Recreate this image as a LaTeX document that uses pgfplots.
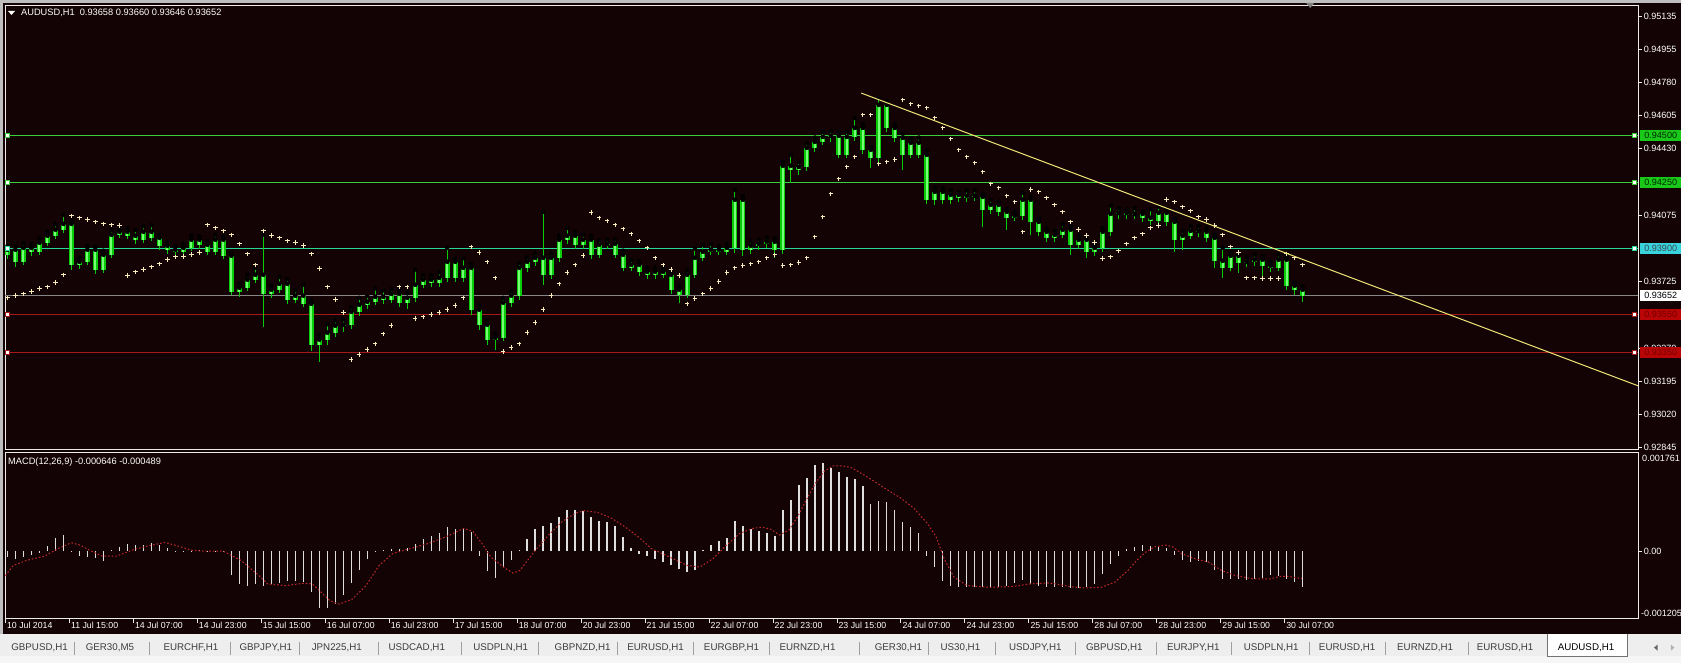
\documentclass[border=0pt]{standalone}
\usepackage{fontspec}
\setmainfont{Liberation Sans}
\usepackage{pgfplots}
\usepackage{pgfplotstable}
\pgfplotsset{compat=1.18}
\definecolor{winbg}{RGB}{238,238,238}
\definecolor{winlow}{RGB}{246,246,246}
\definecolor{winframe}{RGB}{190,190,190}
\definecolor{bg}{RGB}{20,3,5}
\definecolor{axisc}{RGB}{235,235,235}
\definecolor{candle}{RGB}{10,205,10}
\definecolor{candlefill}{RGB}{120,255,120}
\definecolor{lvgreen}{RGB}{60,205,60}
\definecolor{boxgreen}{RGB}{25,200,25}
\definecolor{lvcyan}{RGB}{40,215,150}
\definecolor{boxcyan}{RGB}{55,212,222}
\definecolor{bidc}{RGB}{135,135,135}
\definecolor{lvred}{RGB}{165,25,25}
\definecolor{boxred}{RGB}{185,5,5}
\definecolor{trendc}{RGB}{240,230,120}
\definecolor{sarc}{RGB}{250,236,185}
\definecolor{histc}{RGB}{222,222,222}
\definecolor{sigc}{RGB}{190,40,40}
\definecolor{tabtext}{RGB}{60,60,60}
\newcommand\mt{\fontsize{9.1}{10}\selectfont}
\newcommand\mtt{\fontsize{8.8}{10}\selectfont}
\newcommand\mttl{\fontsize{9.3}{10}\selectfont}
\newcommand\mtab{\fontsize{9.8}{11}\selectfont}

\pgfplotstableread{
x o h l c s m
0.5 0.93868 0.93915 0.93845 0.93895 0.93640 -0.000103
2.5 0.93895 0.93915 0.93805 0.93831 0.93651 -0.000133
4.5 0.93831 0.93930 0.93815 0.93905 0.93661 -0.000103
6.5 0.93905 0.93925 0.93860 0.93884 0.93672 -0.000072
8.5 0.93884 0.93955 0.93865 0.93932 0.93688 -0.000030
10.5 0.93932 0.93990 0.93915 0.93969 0.93698 0.000090
12.5 0.93969 0.94030 0.93950 0.94001 0.93720 0.000229
14.5 0.94001 0.94080 0.93985 0.94032 0.93762 0.000289
16.5 0.94032 0.94050 0.93790 0.93815 0.94075 -0.000012
18.5 0.93815 0.93850 0.93795 0.93831 0.94064 -0.000090
20.5 0.93831 0.93915 0.93815 0.93895 0.94054 -0.000103
22.5 0.93895 0.93910 0.93765 0.93789 0.94043 -0.000115
24.5 0.93789 0.93890 0.93770 0.93868 0.94032 -0.000181
26.5 0.93868 0.94000 0.93850 0.93974 0.94027 0.000018
28.5 0.93974 0.94010 0.93955 0.93990 0.94022 0.000078
30.5 0.93990 0.94010 0.93950 0.93969 0.93757 0.000127
32.5 0.93969 0.94000 0.93925 0.93948 0.93778 0.000115
34.5 0.93948 0.94020 0.93930 0.93990 0.93789 0.000115
36.5 0.93990 0.94025 0.93940 0.93958 0.93804 0.000139
38.5 0.93958 0.93975 0.93895 0.93916 0.93820 0.000109
40.5 0.93916 0.93935 0.93870 0.93895 0.93842 0.000066
42.5 0.93895 0.93915 0.93865 0.93884 0.93857 0.000006
44.5 0.93884 0.93925 0.93865 0.93905 0.93860 -0.000012
46.5 0.93905 0.93970 0.93890 0.93948 0.93870 0.000003
48.5 0.93948 0.93965 0.93900 0.93921 0.93880 0.000018
50.5 0.93921 0.93940 0.93865 0.93884 0.94027 -0.000012
52.5 0.93884 0.93975 0.93865 0.93948 0.94011 0.000006
54.5 0.93948 0.93965 0.93845 0.93863 0.93995 -0.000012
56.5 0.93863 0.93880 0.93655 0.93672 0.93974 -0.000434
58.5 0.93672 0.93715 0.93645 0.93693 0.93926 -0.000585
60.5 0.93693 0.93760 0.93675 0.93736 0.93873 -0.000615
62.5 0.93736 0.93800 0.93720 0.93762 0.93815 -0.000585
64.5 0.93762 0.93975 0.93485 0.93661 0.93995 -0.000615
66.5 0.93661 0.93705 0.93640 0.93683 0.93969 -0.000585
68.5 0.93683 0.93750 0.93665 0.93714 0.93958 -0.000573
70.5 0.93714 0.93740 0.93605 0.93630 0.93942 -0.000537
72.5 0.93630 0.93680 0.93610 0.93651 0.93932 -0.000525
74.5 0.93651 0.93709 0.93590 0.93608 0.93916 -0.000555
76.5 0.93608 0.93625 0.93360 0.93391 0.93873 -0.000736
78.5 0.93391 0.93440 0.93301 0.93418 0.93794 -0.001007
80.5 0.93418 0.93500 0.93390 0.93455 0.93698 -0.001019
82.5 0.93455 0.93520 0.93430 0.93492 0.93630 -0.000935
84.5 0.93492 0.93525 0.93460 0.93497 0.93561 -0.000778
86.5 0.93497 0.93590 0.93475 0.93566 0.93312 -0.000573
88.5 0.93566 0.93640 0.93545 0.93603 0.93338 -0.000344
90.5 0.93603 0.93650 0.93580 0.93619 0.93365 -0.000133
92.5 0.93619 0.93690 0.93600 0.93645 0.93396 -0.000012
94.5 0.93645 0.93680 0.93605 0.93630 0.93449 0.000018
96.5 0.93630 0.93685 0.93610 0.93661 0.93492 0.000036
98.5 0.93661 0.93680 0.93590 0.93614 0.93698 0.000048
100.5 0.93614 0.93665 0.93580 0.93640 0.93698 0.000066
102.5 0.93640 0.93790 0.93620 0.93709 0.93529 0.000127
104.5 0.93709 0.93760 0.93690 0.93736 0.93539 0.000211
106.5 0.93736 0.93760 0.93700 0.93720 0.93550 0.000271
108.5 0.93720 0.93775 0.93700 0.93746 0.93561 0.000320
110.5 0.93746 0.93905 0.93725 0.93831 0.93577 0.000428
112.5 0.93831 0.93850 0.93725 0.93746 0.93598 0.000392
114.5 0.93746 0.93850 0.93725 0.93799 0.93640 0.000404
116.5 0.93799 0.93820 0.93550 0.93577 0.93910 0.000350
118.5 0.93577 0.93600 0.93470 0.93497 0.93879 -0.000090
120.5 0.93497 0.93520 0.93390 0.93418 0.93831 -0.000356
122.5 0.93418 0.93450 0.93365 0.93428 0.93746 -0.000476
124.5 0.93428 0.93640 0.93410 0.93614 0.93354 -0.000283
126.5 0.93614 0.93675 0.93590 0.93651 0.93375 -0.000163
128.5 0.93651 0.93825 0.93630 0.93799 0.93396 0.000030
130.5 0.93799 0.93855 0.93775 0.93831 0.93455 0.000211
132.5 0.93831 0.93875 0.93810 0.93852 0.93508 0.000392
134.5 0.93852 0.94096 0.93709 0.93762 0.93577 0.000452
136.5 0.93762 0.93875 0.93740 0.93852 0.93651 0.000513
138.5 0.93852 0.93970 0.93830 0.93948 0.93714 0.000609
140.5 0.93948 0.94010 0.93925 0.93969 0.93773 0.000730
142.5 0.93969 0.93990 0.93900 0.93921 0.93815 0.000742
144.5 0.93921 0.93975 0.93900 0.93948 0.93863 0.000712
146.5 0.93948 0.93970 0.93845 0.93868 0.94091 0.000609
148.5 0.93868 0.93945 0.93850 0.93921 0.94064 0.000543
150.5 0.93921 0.93950 0.93900 0.93926 0.94048 0.000531
152.5 0.93926 0.93950 0.93850 0.93868 0.94027 0.000452
154.5 0.93868 0.93890 0.93780 0.93799 0.94006 0.000259
156.5 0.93799 0.93840 0.93780 0.93815 0.93979 0.000066
158.5 0.93815 0.93835 0.93755 0.93778 0.93942 -0.000042
160.5 0.93778 0.93800 0.93740 0.93762 0.93905 -0.000090
162.5 0.93762 0.93800 0.93740 0.93778 0.93852 -0.000139
164.5 0.93778 0.93800 0.93745 0.93762 0.93815 -0.000193
166.5 0.93762 0.93780 0.93660 0.93683 0.93789 -0.000247
168.5 0.93683 0.93700 0.93614 0.93656 0.93757 -0.000314
170.5 0.93656 0.93785 0.93640 0.93762 0.93608 -0.000368
172.5 0.93762 0.93900 0.93745 0.93852 0.93635 -0.000344
174.5 0.93852 0.93920 0.93835 0.93884 0.93661 0.000018
176.5 0.93884 0.93925 0.93865 0.93895 0.93688 0.000109
178.5 0.93895 0.93915 0.93865 0.93884 0.93725 0.000187
180.5 0.93884 0.93925 0.93865 0.93905 0.93773 0.000229
182.5 0.93905 0.94213 0.93880 0.94160 0.93799 0.000549
184.5 0.94160 0.94180 0.93860 0.93895 0.93810 0.000452
186.5 0.93895 0.93940 0.93875 0.93916 0.93820 0.000392
188.5 0.93916 0.93950 0.93895 0.93926 0.93831 0.000368
190.5 0.93926 0.93960 0.93905 0.93937 0.93852 0.000332
192.5 0.93937 0.93955 0.93850 0.93895 0.93868 0.000271
194.5 0.93895 0.94360 0.93870 0.94340 0.93810 0.000742
196.5 0.94340 0.94398 0.94250 0.94319 0.93815 0.000923
198.5 0.94319 0.94360 0.94290 0.94334 0.93826 0.001176
200.5 0.94334 0.94460 0.94315 0.94435 0.93852 0.001315
202.5 0.94435 0.94490 0.94415 0.94467 0.93963 0.001538
204.5 0.94467 0.94520 0.94450 0.94493 0.94069 0.001586
206.5 0.94493 0.94525 0.94465 0.94499 0.94191 0.001495
208.5 0.94499 0.94520 0.94380 0.94398 0.94271 0.001417
210.5 0.94398 0.94520 0.94380 0.94493 0.94334 0.001333
212.5 0.94493 0.94594 0.94470 0.94541 0.94387 0.001284
214.5 0.94541 0.94560 0.94405 0.94425 0.94610 0.001164
216.5 0.94425 0.94440 0.94329 0.94382 0.94610 0.000850
218.5 0.94382 0.94700 0.94355 0.94663 0.94350 0.000892
220.5 0.94663 0.94685 0.94520 0.94541 0.94361 0.000880
222.5 0.94541 0.94560 0.94465 0.94488 0.94372 0.000730
224.5 0.94488 0.94510 0.94319 0.94398 0.94690 0.000531
226.5 0.94398 0.94485 0.94380 0.94462 0.94668 0.000440
228.5 0.94462 0.94490 0.94380 0.94398 0.94658 0.000320
230.5 0.94398 0.94420 0.94140 0.94160 0.94647 -0.000090
232.5 0.94160 0.94225 0.94130 0.94202 0.94594 -0.000283
234.5 0.94202 0.94220 0.94135 0.94160 0.94541 -0.000525
236.5 0.94160 0.94210 0.94140 0.94186 0.94483 -0.000615
238.5 0.94186 0.94200 0.94150 0.94170 0.94425 -0.000645
240.5 0.94170 0.94210 0.94150 0.94181 0.94387 -0.000645
242.5 0.94181 0.94210 0.94155 0.94175 0.94356 -0.000645
244.5 0.94175 0.94190 0.94016 0.94107 0.94308 -0.000645
246.5 0.94107 0.94160 0.94085 0.94133 0.94244 -0.000645
248.5 0.94133 0.94150 0.94075 0.94096 0.94223 -0.000633
250.5 0.94096 0.94110 0.94001 0.94064 0.94181 -0.000621
252.5 0.94064 0.94095 0.94045 0.94075 0.94149 -0.000573
254.5 0.94075 0.94197 0.94055 0.94160 0.93990 -0.000513
256.5 0.94160 0.94175 0.93974 0.94043 0.94213 -0.000585
258.5 0.94043 0.94060 0.93970 0.93990 0.94202 -0.000615
260.5 0.93990 0.94005 0.93935 0.93958 0.94170 -0.000645
262.5 0.93958 0.93995 0.93935 0.93974 0.94133 -0.000645
264.5 0.93974 0.94030 0.93955 0.94001 0.94096 -0.000645
266.5 0.94001 0.94020 0.93868 0.93921 0.94043 -0.000657
268.5 0.93921 0.93970 0.93900 0.93948 0.94001 -0.000657
270.5 0.93948 0.93965 0.93852 0.93884 0.93969 -0.000645
272.5 0.93884 0.93925 0.93860 0.93905 0.93932 -0.000585
274.5 0.93905 0.94010 0.93885 0.93990 0.93847 -0.000416
276.5 0.93990 0.94130 0.93970 0.94085 0.93857 -0.000235
278.5 0.94085 0.94115 0.94060 0.94090 0.93889 -0.000090
280.5 0.94090 0.94110 0.94060 0.94080 0.93926 0.000048
282.5 0.94080 0.94115 0.94060 0.94085 0.93958 0.000078
284.5 0.94085 0.94100 0.94040 0.94064 0.93979 0.000109
286.5 0.94064 0.94110 0.94025 0.94048 0.94011 0.000090
288.5 0.94048 0.94122 0.94030 0.94091 0.94022 0.000078
290.5 0.94091 0.94110 0.94020 0.94043 0.94160 0.000060
292.5 0.94043 0.94060 0.93884 0.93948 0.94149 -0.000072
294.5 0.93948 0.93995 0.93895 0.93969 0.94122 -0.000151
296.5 0.93969 0.94020 0.93950 0.93995 0.94101 -0.000193
298.5 0.93995 0.94020 0.93965 0.93990 0.94069 -0.000175
300.5 0.93990 0.94010 0.93935 0.93958 0.94054 -0.000193
302.5 0.93958 0.93975 0.93799 0.93836 0.94022 -0.000344
304.5 0.93836 0.93905 0.93746 0.93799 0.93974 -0.000494
306.5 0.93799 0.93885 0.93780 0.93863 0.93910 -0.000494
308.5 0.93863 0.93870 0.93773 0.93826 0.93880 -0.000494
310.5 0.93826 0.93855 0.93805 0.93831 0.93746 -0.000513
312.5 0.93831 0.93870 0.93810 0.93842 0.93746 -0.000500
314.5 0.93842 0.93860 0.93750 0.93810 0.93741 -0.000476
316.5 0.93810 0.93830 0.93775 0.93799 0.93741 -0.000434
318.5 0.93799 0.93870 0.93780 0.93842 0.93741 -0.000452
320.5 0.93842 0.93860 0.93680 0.93704 0.93873 -0.000494
322.5 0.93704 0.93720 0.93655 0.93683 0.93852 -0.000555
324.5 0.93683 0.93700 0.93619 0.93651 0.93815 -0.000645
}\candles

\pgfplotstableread{
i v
0 -0.000434
2.0 -0.000253
5.35 -0.000163
9.8 -0.000090
13.2 0.000048
16.5 0.000151
18.7 0.000109
21.0 0.000018
24.3 -0.000090
27.7 -0.000090
32.1 0.000030
36.6 0.000109
39.9 0.000157
43.3 0.000090
46.6 0.000018
50 0.000000
54.5 0.000000
58.9 -0.000163
63.4 -0.000434
65.6 -0.000585
70.1 -0.000615
74.5 -0.000573
76.8 -0.000585
79 -0.000736
81.2 -0.000886
83.5 -0.000947
86.8 -0.000856
90.2 -0.000615
93.5 -0.000253
96.9 -0.000042
101.3 0.000048
105.8 0.000139
110.3 0.000259
114.7 0.000410
117 0.000350
119.2 0.000139
121.4 -0.000103
124.8 -0.000295
127 -0.000392
128.7 -0.000344
130.3 -0.000193
132.6 0.000018
135.9 0.000289
139.3 0.000531
142.6 0.000681
144.9 0.000724
148.2 0.000693
151.6 0.000591
154.9 0.000440
158.3 0.000259
161.6 0.000048
166.1 -0.000103
170.5 -0.000253
173.7 -0.000283
177 -0.000133
180.4 0.000109
183.7 0.000320
187.1 0.000410
189.3 0.000428
191.5 0.000392
193.7 0.000289
196 0.000380
198.2 0.000621
200.4 0.000923
202.7 0.001224
204.9 0.001435
207.1 0.001526
209.4 0.001526
211.6 0.001495
213.8 0.001405
217.2 0.001254
220.5 0.001103
223.9 0.000953
227.2 0.000772
230.6 0.000500
232.8 0.000259
235 -0.000163
237.3 -0.000464
240.6 -0.000615
246.2 -0.000645
251.8 -0.000633
256.3 -0.000585
260.7 -0.000567
262.9 -0.000585
266.3 -0.000633
269.6 -0.000657
274.1 -0.000645
277.5 -0.000555
280.8 -0.000344
283 -0.000163
285.3 -0.000012
287.5 0.000078
290.3 0.000109
292 0.000078
294.2 -0.000042
297.5 -0.000133
300.9 -0.000193
304.2 -0.000344
307.6 -0.000434
312 -0.000494
316.5 -0.000494
318.7 -0.000452
321 -0.000452
324.3 -0.000489
}\signal

\pgfplotsset{
  mtbase/.style={
    scale only axis, width=1634bp, xmin=-0.1, xmax=408.4,
    axis line style={draw=axisc, line width=0.8bp},
    tick style={draw=axisc, line width=0.8bp},
    tick align=outside, major tick length=4bp,
    ytick pos=right, yticklabel pos=right,
    scaled y ticks=false, clip mode=individual,
    yticklabel style={font=\mt, text=white, inner xsep=1.5bp},
  },
  candlebar/.style={only marks, mark=none, forget plot,
    error bars/.cd, y dir=minus, y explicit, error mark=none,
    error bar style={#1}},
  lvl/.style={line width=0.9bp, forget plot},
  lvmark/.style={only marks, mark=square*, mark size=2bp, forget plot,
    mark options={draw=#1, fill=white, line width=0.8bp}},
}
\tikzset{
  pricebox/.style={anchor=west, xshift=2bp, minimum width=41bp, minimum height=11bp,
    inner sep=0pt, font=\mt},
}

\begin{document}
\begin{tikzpicture}[x=1bp,y=1bp]
\fill[winframe] (0,0) rectangle (1682,663);
\fill[winbg] (0,0) rectangle (1682,29);
\fill[winlow] (0,0) rectangle (1682,6.3);
\fill[bg] (3,29) rectangle (1682,660);

% ---------------- main price panel ----------------
\begin{axis}[mtbase, at={(5bp,213bp)}, anchor=south west, height=445bp,
  ymin=0.928345, ymax=0.95193,
  xtick=\empty,
  ytick={0.92845,0.93020,0.93195,0.93370,0.93725,0.94075,0.94430,0.94605,0.94780,0.94955,0.95135},
  yticklabels={0.92845,0.93020,0.93195,0.93370,0.93725,0.94075,0.94430,0.94605,0.94780,0.94955,0.95135},
]
\addplot[lvl, lvgreen] coordinates {(-0.1,0.94500) (408.4,0.94500)};
\addplot[lvl, lvgreen] coordinates {(-0.1,0.94250) (408.4,0.94250)};
\addplot[lvl, lvcyan]  coordinates {(-0.1,0.93900) (408.4,0.93900)};
\addplot[lvl, bidc, line width=0.8bp] coordinates {(-0.1,0.93652) (408.4,0.93652)};
\addplot[lvl, lvred]   coordinates {(-0.1,0.93550) (408.4,0.93550)};
\addplot[lvl, lvred]   coordinates {(-0.1,0.93350) (408.4,0.93350)};

% wicks
\addplot[candlebar={draw=candle, line width=1bp}]
  table[x=x, y=h, y error minus expr=\thisrow{h}-\thisrow{l}] {\candles};
% bodies (outline, then fill)
\addplot[candlebar={draw=candle, line width=5bp, line cap=butt}]
  table[x=x, y expr={max(\thisrow{o},\thisrow{c})},
        y error minus expr={abs(\thisrow{o}-\thisrow{c})}] {\candles};
\addplot[candlebar={draw=candlefill, line width=2.2bp, line cap=butt}]
  table[x=x, y expr={max(\thisrow{o},\thisrow{c})},
        y error minus expr={abs(\thisrow{o}-\thisrow{c})}] {\candles};

% parabolic SAR
\addplot[only marks, mark=+, mark size=2.3bp, mark options={draw=sarc, line width=1bp}]
  table[x=x, y=s] {\candles};

% trend line
\addplot[trendc, line width=1bp] coordinates {(214.1,0.947257) (408.4,0.931735)};

% level markers
\addplot[lvmark=lvgreen] coordinates {(0.4,0.94500) (407.6,0.94500)};
\addplot[lvmark=lvgreen] coordinates {(0.4,0.94250) (407.6,0.94250)};
\addplot[lvmark=lvcyan]  coordinates {(0.4,0.93900) (407.6,0.93900)};
\addplot[lvmark=lvred]   coordinates {(0.4,0.93550) (407.6,0.93550)};
\addplot[lvmark=lvred]   coordinates {(0.4,0.93350) (407.6,0.93350)};

\node[pricebox, fill=boxgreen, text=black!85!green] at (axis cs:408.4,0.94500) {0.94500};
\node[pricebox, fill=boxgreen, text=black!85!green] at (axis cs:408.4,0.94250) {0.94250};
\node[pricebox, fill=boxcyan, text=black!80!cyan] at (axis cs:408.4,0.93900) {0.93900};
\node[pricebox, fill=white, text=black] at (axis cs:408.4,0.93652) {0.93652};
\node[pricebox, fill=boxred, text=red!45!black] at (axis cs:408.4,0.93550) {0.93550};
\node[pricebox, fill=boxred, text=red!45!black] at (axis cs:408.4,0.93350) {0.93350};
\end{axis}

% ---------------- MACD panel ----------------
\begin{axis}[mtbase, at={(5bp,44bp)}, anchor=south west, height=166bp,
  ymin=-0.001205, ymax=0.001761,
  ytick={0}, yticklabels={0.00},
  xtick={0,16,...,320}, xtick pos=bottom,
  xticklabels={10 Jul 2014,11 Jul 15:00,14 Jul 07:00,14 Jul 23:00,15 Jul 15:00,16 Jul 07:00,16 Jul 23:00,17 Jul 15:00,18 Jul 07:00,20 Jul 23:00,21 Jul 15:00,22 Jul 07:00,22 Jul 23:00,23 Jul 15:00,24 Jul 07:00,24 Jul 23:00,25 Jul 15:00,28 Jul 07:00,28 Jul 23:00,29 Jul 15:00,30 Jul 07:00},
  xticklabel style={font=\mtt, text=white, anchor=north west, inner sep=0pt, xshift=1.5bp, yshift=1bp},
]
\addplot[ycomb, histc, line width=1.2bp] table[x=x, y=m] {\candles};
\addplot[sigc, line width=1bp, dash pattern=on 1.6bp off 2bp] table[x=i, y=v] {\signal};
\end{axis}

% texts
\fill[white] (8,652) -- (15,652) -- (11.5,648) -- cycle;
\node[anchor=base west, inner sep=0pt, font=\mttl, text=white] at (21,647.3)
  {AUDUSD,H1\ \ 0.93658 0.93660 0.93646 0.93652};
\node[anchor=base west, inner sep=0pt, font=\mttl, text=white] at (8,198.3)
  {MACD(12,26,9) -0.000646 -0.000489};
\node[anchor=north west, inner sep=0pt, font=\mt, text=white] at (1643,208) {0.001761};
\node[anchor=south west, inner sep=0pt, font=\mt, text=white] at (1642,46) {-0.001205};
\fill[gray] (1307,660) -- (1315,660) -- (1311,655) -- cycle;

% tab bar
\begin{scope}[every node/.style={font=\mtab, text=tabtext, inner sep=0pt}]
\node at (39.6,14.7) {GBPUSD,H1};
\node at (110,14.7) {GER30,M5};
\node at (191,14.7) {EURCHF,H1};
\node at (266,14.7) {GBPJPY,H1};
\node at (337,14.7) {JPN225,H1};
\node at (417,14.7) {USDCAD,H1};
\node at (501,14.7) {USDPLN,H1};
\node at (583,14.7) {GBPNZD,H1};
\node at (656,14.7) {EURUSD,H1};
\node at (732,14.7) {EURGBP,H1};
\node at (808,14.7) {EURNZD,H1};
\node at (899,14.7) {GER30,H1};
\node at (961,14.7) {US30,H1};
\node at (1036,14.7) {USDJPY,H1};
\node at (1115,14.7) {GBPUSD,H1};
\node at (1194,14.7) {EURJPY,H1};
\node at (1272,14.7) {USDPLN,H1};
\node at (1348,14.7) {EURUSD,H1};
\node at (1426,14.7) {EURNZD,H1};
\node at (1506,14.7) {EURUSD,H1};
\end{scope}
\foreach \s in {74,149,230,300,379,462,539,618,694,770,860,929,996,1076,1157,1232,1310,1386,1469}
  \draw[gray!75, line width=0.7bp] (\s,8) -- (\s,21);
\fill[white] (1548,6.3) rectangle (1628,29);
\draw[gray!90!black, line width=0.7bp] (1548,29) -- (1548,6.3) -- (1628,6.3) -- (1628,29);
\node[font=\mtab, text=black, inner sep=0pt] at (1587,14.7) {AUDUSD,H1};
\fill[gray!80!black] (1658.5,12) -- (1658.5,18) -- (1655,15) -- cycle;
\fill[gray!60] (1672,12) -- (1672,18) -- (1675.5,15) -- cycle;
\end{tikzpicture}
\end{document}
